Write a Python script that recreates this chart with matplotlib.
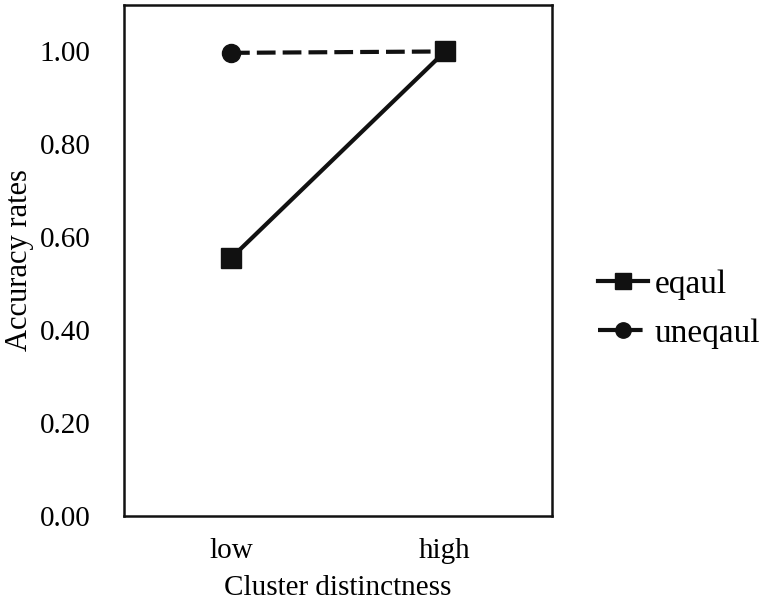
import matplotlib
matplotlib.use("Agg")
import matplotlib.pyplot as plt

categories = ["low", "high"]
equal_vals = [0.555, 1.00]
unequal_vals = [0.997, 1.00]
yticks = [0.0, 0.2, 0.4, 0.6, 0.8, 1.0]

plt.rcParams['font.family'] = ['Liberation Serif', 'DejaVu Serif']

fig = plt.figure(figsize=(7.72, 6.03), dpi=100)
ax = fig.add_axes([124/772, 1-516/603, 428/772, 511/603])

x = list(range(len(categories)))
ax.plot(x, equal_vals, color="#111111", lw=3, marker="s", markersize=14, label="eqaul")
ax.plot(x, unequal_vals, color="#111111", lw=3, ls=(0, (4.5, 1.7)), marker="o",
        markersize=13, label="uneqaul")

ax.set_xlim(-0.5, 1.5)
ax.set_ylim(0, 1.1)
ax.set_xticks(x)
ax.set_xticklabels(categories)
ax.set_yticks(yticks)
ax.set_yticklabels([f"{v:.2f}" for v in yticks])
ax.tick_params(length=0, labelsize=21)
ax.tick_params(axis='y', pad=24)
ax.tick_params(axis='x', pad=16)
for s in ax.spines.values():
    s.set_linewidth(1.8)
    s.set_color("#111111")
ax.set_xlabel("Cluster distinctness", fontsize=21, labelpad=8)
ax.set_ylabel("Accuracy rates", fontsize=22, labelpad=4)

fig.legend(loc="center left", bbox_to_anchor=(598/772, 1-309/603), frameon=False,
           fontsize=24, handlelength=1.5, handletextpad=0.2, labelspacing=0.55,
           borderpad=0, borderaxespad=0, markerscale=0.85)

fig.savefig("out.png", dpi=100)
